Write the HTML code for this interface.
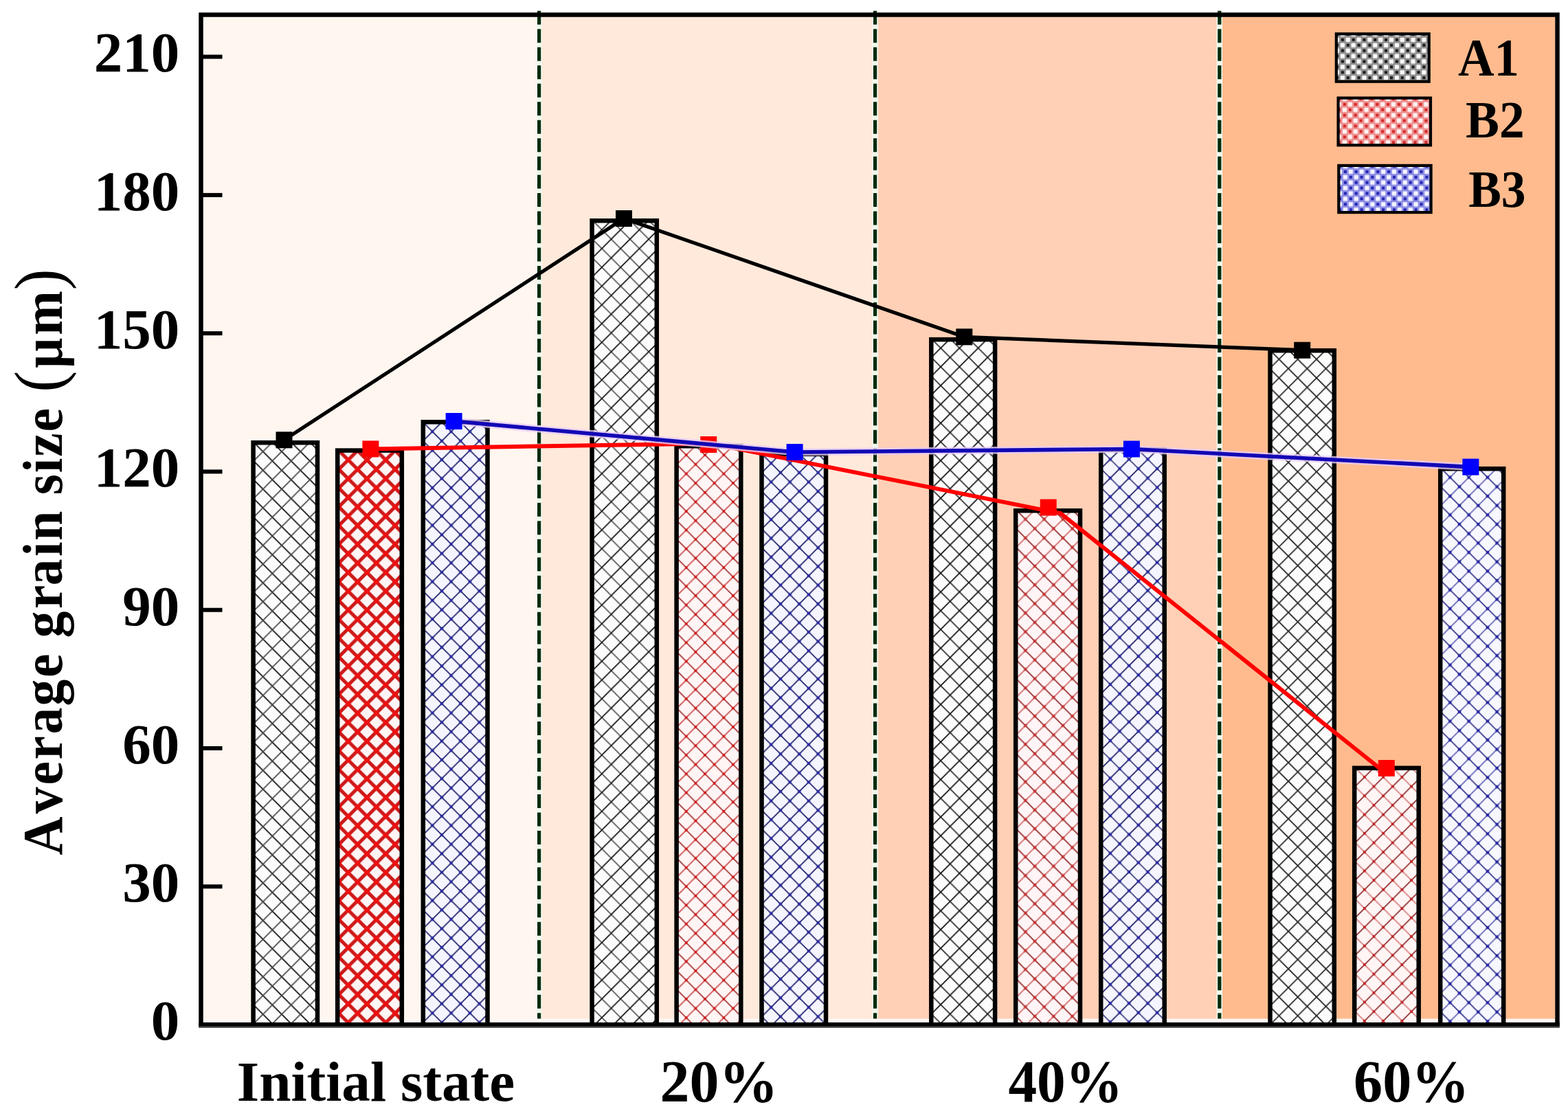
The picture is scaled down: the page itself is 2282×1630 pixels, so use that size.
<!DOCTYPE html>
<html><head><meta charset="utf-8"><title>Average grain size</title>
<style>
html,body{margin:0;padding:0;background:#fff;}
body{width:2282px;height:1630px;overflow:hidden;}
svg{display:block;}
text{font-family:"Liberation Serif","Times New Roman",serif;font-weight:bold;fill:#000;}
</style></head><body>
<svg xmlns="http://www.w3.org/2000/svg" width="2282" height="1630" viewBox="0 0 2282 1630">
<defs>
<pattern id="pA10" patternUnits="userSpaceOnUse" x="0.5" y="2.0" width="27.3" height="27.3"><rect width="27.3" height="27.3" fill="#FCFCFC"/><path d="M-27.30,-54.60L54.60,27.30M-27.30,-27.30L54.60,54.60M-27.30,0.00L54.60,81.90" stroke="#101010" stroke-width="1.75" fill="none"/><path d="M-27.30,27.30L54.60,-54.60M-27.30,54.60L54.60,-27.30M-27.30,81.90L54.60,0.00" stroke="#4a4a4a" stroke-width="1.75" fill="none"/></pattern>
<pattern id="pA11" patternUnits="userSpaceOnUse" x="2.3" y="6.8" width="27.3" height="27.3"><rect width="27.3" height="27.3" fill="#FCFCFC"/><path d="M-27.30,-54.60L54.60,27.30M-27.30,-27.30L54.60,54.60M-27.30,0.00L54.60,81.90" stroke="#5a5a5a" stroke-width="1.8" fill="none"/><path d="M-27.30,27.30L54.60,-54.60M-27.30,54.60L54.60,-27.30M-27.30,81.90L54.60,0.00" stroke="#101010" stroke-width="1.7" fill="none"/></pattern>
<pattern id="pA12" patternUnits="userSpaceOnUse" x="17.7" y="1.5" width="27.3" height="27.3"><rect width="27.3" height="27.3" fill="#FCFCFC"/><path d="M-27.30,-54.60L54.60,27.30M-27.30,-27.30L54.60,54.60M-27.30,0.00L54.60,81.90" stroke="#303030" stroke-width="1.75" fill="none"/><path d="M-27.30,27.30L54.60,-54.60M-27.30,54.60L54.60,-27.30M-27.30,81.90L54.60,0.00" stroke="#101010" stroke-width="1.7" fill="none"/></pattern>
<pattern id="pA13" patternUnits="userSpaceOnUse" x="5.0" y="4.1" width="27.3" height="27.3"><rect width="27.3" height="27.3" fill="#FCFCFC"/><path d="M-27.30,-54.60L54.60,27.30M-27.30,-27.30L54.60,54.60M-27.30,0.00L54.60,81.90" stroke="#1a1a1a" stroke-width="1.7" fill="none"/><path d="M-27.30,27.30L54.60,-54.60M-27.30,54.60L54.60,-27.30M-27.30,81.90L54.60,0.00" stroke="#262626" stroke-width="1.7" fill="none"/></pattern>
<pattern id="pB20" patternUnits="userSpaceOnUse" x="1.7" y="0.5" width="27.3" height="27.3"><rect width="27.3" height="27.3" fill="#FFF5F5"/><path d="M-27.30,-54.60L54.60,27.30M-27.30,-27.30L54.60,54.60M-27.30,0.00L54.60,81.90" stroke="#CC1A1A" stroke-width="5.0" fill="none"/><path d="M-27.30,27.30L54.60,-54.60M-27.30,54.60L54.60,-27.30M-27.30,81.90L54.60,0.00" stroke="#CC1A1A" stroke-width="5.0" fill="none"/><rect x="-3.50" y="-3.50" width="7" height="7" fill="#EE1111"/><rect x="23.80" y="-3.50" width="7" height="7" fill="#EE1111"/><rect x="-3.50" y="23.80" width="7" height="7" fill="#EE1111"/><rect x="23.80" y="23.80" width="7" height="7" fill="#EE1111"/><rect x="10.15" y="10.15" width="7" height="7" fill="#EE1111"/></pattern>
<pattern id="pB21" patternUnits="userSpaceOnUse" x="15.9" y="7.0" width="27.3" height="27.3"><rect width="27.3" height="27.3" fill="#FFF5F5"/><path d="M-27.30,-54.60L54.60,27.30M-27.30,-27.30L54.60,54.60M-27.30,0.00L54.60,81.90" stroke="#A83838" stroke-width="1.8" fill="none"/><path d="M-27.30,27.30L54.60,-54.60M-27.30,54.60L54.60,-27.30M-27.30,81.90L54.60,0.00" stroke="#D06060" stroke-width="1.9" fill="none"/><rect x="-2.00" y="-2.00" width="4" height="4" fill="#D02020"/><rect x="25.30" y="-2.00" width="4" height="4" fill="#D02020"/><rect x="-2.00" y="25.30" width="4" height="4" fill="#D02020"/><rect x="25.30" y="25.30" width="4" height="4" fill="#D02020"/><rect x="11.65" y="11.65" width="4" height="4" fill="#D02020"/></pattern>
<pattern id="pB22" patternUnits="userSpaceOnUse" x="4.5" y="4.9" width="27.3" height="27.3"><rect width="27.3" height="27.3" fill="#FFF5F6"/><path d="M-27.30,-54.60L54.60,27.30M-27.30,-27.30L54.60,54.60M-27.30,0.00L54.60,81.90" stroke="#953030" stroke-width="1.8" fill="none"/><path d="M-27.30,27.30L54.60,-54.60M-27.30,54.60L54.60,-27.30M-27.30,81.90L54.60,0.00" stroke="#D47A7A" stroke-width="1.9" fill="none"/><rect x="-2.25" y="-2.25" width="4.5" height="4.5" fill="#C43838"/><rect x="25.05" y="-2.25" width="4.5" height="4.5" fill="#C43838"/><rect x="-2.25" y="25.05" width="4.5" height="4.5" fill="#C43838"/><rect x="25.05" y="25.05" width="4.5" height="4.5" fill="#C43838"/><rect x="11.40" y="11.40" width="4.5" height="4.5" fill="#C43838"/></pattern>
<pattern id="pB23" patternUnits="userSpaceOnUse" x="6.6" y="25.3" width="27.3" height="27.3"><rect width="27.3" height="27.3" fill="#FFF5F5"/><path d="M-27.30,-54.60L54.60,27.30M-27.30,-27.30L54.60,54.60M-27.30,0.00L54.60,81.90" stroke="#DC9090" stroke-width="2.0" fill="none"/><path d="M-27.30,27.30L54.60,-54.60M-27.30,54.60L54.60,-27.30M-27.30,81.90L54.60,0.00" stroke="#8E2C2C" stroke-width="1.7" fill="none"/><rect x="-2.00" y="-2.00" width="4" height="4" fill="#C02828"/><rect x="25.30" y="-2.00" width="4" height="4" fill="#C02828"/><rect x="-2.00" y="25.30" width="4" height="4" fill="#C02828"/><rect x="25.30" y="25.30" width="4" height="4" fill="#C02828"/><rect x="11.65" y="11.65" width="4" height="4" fill="#C02828"/></pattern>
<pattern id="pB30" patternUnits="userSpaceOnUse" x="1.4" y="0.2" width="27.3" height="27.3"><rect width="27.3" height="27.3" fill="#F5F5FF"/><path d="M-27.30,-54.60L54.60,27.30M-27.30,-27.30L54.60,54.60M-27.30,0.00L54.60,81.90" stroke="#1C1C66" stroke-width="1.6" fill="none"/><path d="M-27.30,27.30L54.60,-54.60M-27.30,54.60L54.60,-27.30M-27.30,81.90L54.60,0.00" stroke="#1C1C66" stroke-width="1.6" fill="none"/><rect x="-2.25" y="-2.25" width="4.5" height="4.5" fill="#2A2A9A"/><rect x="25.05" y="-2.25" width="4.5" height="4.5" fill="#2A2A9A"/><rect x="-2.25" y="25.05" width="4.5" height="4.5" fill="#2A2A9A"/><rect x="25.05" y="25.05" width="4.5" height="4.5" fill="#2A2A9A"/><rect x="11.40" y="11.40" width="4.5" height="4.5" fill="#2A2A9A"/></pattern>
<pattern id="pB31" patternUnits="userSpaceOnUse" x="3.0" y="19.0" width="27.3" height="27.3"><rect width="27.3" height="27.3" fill="#F5F5FF"/><path d="M-27.30,-54.60L54.60,27.30M-27.30,-27.30L54.60,54.60M-27.30,0.00L54.60,81.90" stroke="#1C1C66" stroke-width="1.6" fill="none"/><path d="M-27.30,27.30L54.60,-54.60M-27.30,54.60L54.60,-27.30M-27.30,81.90L54.60,0.00" stroke="#1C1C66" stroke-width="1.6" fill="none"/><rect x="-2.25" y="-2.25" width="4.5" height="4.5" fill="#2A2A9A"/><rect x="25.05" y="-2.25" width="4.5" height="4.5" fill="#2A2A9A"/><rect x="-2.25" y="25.05" width="4.5" height="4.5" fill="#2A2A9A"/><rect x="25.05" y="25.05" width="4.5" height="4.5" fill="#2A2A9A"/><rect x="11.40" y="11.40" width="4.5" height="4.5" fill="#2A2A9A"/></pattern>
<pattern id="pB32" patternUnits="userSpaceOnUse" x="18.8" y="26.9" width="27.3" height="27.3"><rect width="27.3" height="27.3" fill="#F5F5FF"/><path d="M-27.30,-54.60L54.60,27.30M-27.30,-27.30L54.60,54.60M-27.30,0.00L54.60,81.90" stroke="#40407E" stroke-width="1.7" fill="none"/><path d="M-27.30,27.30L54.60,-54.60M-27.30,54.60L54.60,-27.30M-27.30,81.90L54.60,0.00" stroke="#18185E" stroke-width="1.6" fill="none"/><rect x="-2.25" y="-2.25" width="4.5" height="4.5" fill="#2A2AA0"/><rect x="25.05" y="-2.25" width="4.5" height="4.5" fill="#2A2AA0"/><rect x="-2.25" y="25.05" width="4.5" height="4.5" fill="#2A2AA0"/><rect x="25.05" y="25.05" width="4.5" height="4.5" fill="#2A2AA0"/><rect x="11.40" y="11.40" width="4.5" height="4.5" fill="#2A2AA0"/></pattern>
<pattern id="pB33" patternUnits="userSpaceOnUse" x="21.9" y="25.9" width="27.3" height="27.3"><rect width="27.3" height="27.3" fill="#F7F7FF"/><path d="M-27.30,-54.60L54.60,27.30M-27.30,-27.30L54.60,54.60M-27.30,0.00L54.60,81.90" stroke="#34348A" stroke-width="1.7" fill="none"/><path d="M-27.30,27.30L54.60,-54.60M-27.30,54.60L54.60,-27.30M-27.30,81.90L54.60,0.00" stroke="#6A6AB8" stroke-width="1.8" fill="none"/><rect x="-2.25" y="-2.25" width="4.5" height="4.5" fill="#2A2AA0"/><rect x="25.05" y="-2.25" width="4.5" height="4.5" fill="#2A2AA0"/><rect x="-2.25" y="25.05" width="4.5" height="4.5" fill="#2A2AA0"/><rect x="25.05" y="25.05" width="4.5" height="4.5" fill="#2A2AA0"/><rect x="11.40" y="11.40" width="4.5" height="4.5" fill="#2A2AA0"/></pattern>
<pattern id="lA" patternUnits="userSpaceOnUse" x="1946" y="50" width="15.8" height="15.8"><rect width="15.8" height="15.8" fill="#909090"/><rect x="4.80" y="-3.10" width="6.2" height="6.2" fill="#FAFAFA"/><rect x="-3.10" y="4.80" width="6.2" height="6.2" fill="#FAFAFA"/><rect x="12.70" y="4.80" width="6.2" height="6.2" fill="#FAFAFA"/><rect x="4.80" y="12.70" width="6.2" height="6.2" fill="#FAFAFA"/><rect x="-2.00" y="-2.00" width="4.0" height="4.0" fill="#1a1a1a"/><rect x="13.80" y="-2.00" width="4.0" height="4.0" fill="#1a1a1a"/><rect x="-2.00" y="13.80" width="4.0" height="4.0" fill="#1a1a1a"/><rect x="13.80" y="13.80" width="4.0" height="4.0" fill="#1a1a1a"/><rect x="5.90" y="5.90" width="4.0" height="4.0" fill="#1a1a1a"/></pattern>
<pattern id="lB" patternUnits="userSpaceOnUse" x="1949" y="144" width="15.8" height="15.8"><rect width="15.8" height="15.8" fill="#EE9090"/><rect x="4.80" y="-3.10" width="6.2" height="6.2" fill="#FFF2F2"/><rect x="-3.10" y="4.80" width="6.2" height="6.2" fill="#FFF2F2"/><rect x="12.70" y="4.80" width="6.2" height="6.2" fill="#FFF2F2"/><rect x="4.80" y="12.70" width="6.2" height="6.2" fill="#FFF2F2"/><rect x="-2.00" y="-2.00" width="4.0" height="4.0" fill="#D42828"/><rect x="13.80" y="-2.00" width="4.0" height="4.0" fill="#D42828"/><rect x="-2.00" y="13.80" width="4.0" height="4.0" fill="#D42828"/><rect x="13.80" y="13.80" width="4.0" height="4.0" fill="#D42828"/><rect x="5.90" y="5.90" width="4.0" height="4.0" fill="#D42828"/></pattern>
<pattern id="lC" patternUnits="userSpaceOnUse" x="1950" y="242" width="15.8" height="15.8"><rect width="15.8" height="15.8" fill="#8C8CE6"/><rect x="4.80" y="-3.10" width="6.2" height="6.2" fill="#F4F4FF"/><rect x="-3.10" y="4.80" width="6.2" height="6.2" fill="#F4F4FF"/><rect x="12.70" y="4.80" width="6.2" height="6.2" fill="#F4F4FF"/><rect x="4.80" y="12.70" width="6.2" height="6.2" fill="#F4F4FF"/><rect x="-2.00" y="-2.00" width="4.0" height="4.0" fill="#2424B0"/><rect x="13.80" y="-2.00" width="4.0" height="4.0" fill="#2424B0"/><rect x="-2.00" y="13.80" width="4.0" height="4.0" fill="#2424B0"/><rect x="13.80" y="13.80" width="4.0" height="4.0" fill="#2424B0"/><rect x="5.90" y="5.90" width="4.0" height="4.0" fill="#2424B0"/></pattern>
</defs>
<rect width="2282" height="1630" fill="#fff"/>
<rect x="296" y="21.5" width="488.6" height="1461.3" fill="#FFF6F0"/>
<rect x="784.6" y="21.5" width="489.0" height="1461.3" fill="#FFE9DB"/>
<rect x="1273.6" y="21.5" width="501.2" height="1461.3" fill="#FFD0B5"/>
<rect x="1774.8" y="21.5" width="488.2" height="1461.3" fill="#FFBB8E"/>
<rect x="296" y="1482.8" width="1967" height="5.5" fill="#FFF8F4"/>
<line x1="784.6" y1="17" x2="784.6" y2="1482.6" stroke="#F0F8EC" stroke-width="8.5"/>
<line x1="784.6" y1="15.7" x2="784.6" y2="1482.6" stroke="#062A0C" stroke-width="5.2" stroke-dasharray="20 6.52"/>
<line x1="1273.6" y1="17" x2="1273.6" y2="1482.6" stroke="#F0F8EC" stroke-width="8.5"/>
<line x1="1273.6" y1="15.7" x2="1273.6" y2="1482.6" stroke="#062A0C" stroke-width="5.2" stroke-dasharray="20 6.52"/>
<line x1="1774.8" y1="17" x2="1774.8" y2="1482.6" stroke="#F0F8EC" stroke-width="8.5"/>
<line x1="1774.8" y1="15.7" x2="1774.8" y2="1482.6" stroke="#062A0C" stroke-width="5.2" stroke-dasharray="20 6.52"/>
<rect x="368.6" y="644.2" width="93.4" height="847.2" fill="url(#pA10)" stroke="#000" stroke-width="6.5"/>
<rect x="861.6" y="321.2" width="94.2" height="1170.2" fill="url(#pA11)" stroke="#000" stroke-width="6.5"/>
<rect x="1355.3" y="494.1" width="92.8" height="997.5" fill="url(#pA12)" stroke="#000" stroke-width="6.5"/>
<rect x="1848.5" y="510.2" width="93.3" height="981.2" fill="url(#pA13)" stroke="#000" stroke-width="6.5"/>
<rect x="491.2" y="655.6" width="93.6" height="835.9" fill="url(#pB20)" stroke="#000" stroke-width="6.5"/>
<rect x="984.6" y="649.2" width="93.7" height="842.2" fill="url(#pB21)" stroke="#000" stroke-width="6.5"/>
<rect x="1478.2" y="743.2" width="93.8" height="748.2" fill="url(#pB22)" stroke="#000" stroke-width="6.5"/>
<rect x="1971.2" y="1117.8" width="93.5" height="373.8" fill="url(#pB23)" stroke="#000" stroke-width="6.5"/>
<rect x="615.8" y="614.2" width="93.7" height="877.2" fill="url(#pB30)" stroke="#000" stroke-width="6.5"/>
<rect x="1108.5" y="660.8" width="93.5" height="830.8" fill="url(#pB31)" stroke="#000" stroke-width="6.5"/>
<rect x="1602.2" y="654.6" width="92.5" height="836.9" fill="url(#pB32)" stroke="#000" stroke-width="6.5"/>
<rect x="2096.2" y="682.2" width="92.0" height="809.2" fill="url(#pB33)" stroke="#000" stroke-width="6.5"/>
<rect x="292.5" y="21.5" width="1974.0" height="1470.0" fill="none" stroke="#000" stroke-width="6.5"/>
<rect x="289.25" y="1488" width="1980.5" height="5.2" fill="#000"/>
<rect x="289.25" y="1493.2" width="1980.5" height="2.6" fill="#3a3a3a"/>
<line x1="292.5" y1="1290.2" x2="323.5" y2="1290.2" stroke="#000" stroke-width="6"/>
<line x1="292.5" y1="1089.0" x2="323.5" y2="1089.0" stroke="#000" stroke-width="6"/>
<line x1="292.5" y1="887.7" x2="323.5" y2="887.7" stroke="#000" stroke-width="6"/>
<line x1="292.5" y1="686.4" x2="323.5" y2="686.4" stroke="#000" stroke-width="6"/>
<line x1="292.5" y1="485.1" x2="323.5" y2="485.1" stroke="#000" stroke-width="6"/>
<line x1="292.5" y1="283.9" x2="323.5" y2="283.9" stroke="#000" stroke-width="6"/>
<line x1="292.5" y1="82.6" x2="323.5" y2="82.6" stroke="#000" stroke-width="6"/>
<polyline points="413.5,640.3 908.0,318.0 1403.3,490.3 1895.2,509.7" fill="none" stroke="#000000" stroke-width="5.2" stroke-linejoin="round"/>
<rect x="401.5" y="628.3" width="24" height="24" fill="#000000"/>
<rect x="896.0" y="306.0" width="24" height="24" fill="#000000"/>
<rect x="1391.3" y="478.3" width="24" height="24" fill="#000000"/>
<rect x="1883.2" y="497.7" width="24" height="24" fill="#000000"/>
<polyline points="539.4,653.4 1034.3,645.4 1543.8,747.3 2017.8,1126.0" fill="none" stroke="#FF0000" stroke-width="6" stroke-linejoin="round"/>
<rect x="527.4" y="641.4" width="24" height="24" fill="#FF0000"/>
<rect x="1019.2" y="635.0" width="24" height="24" fill="#FF0000"/>
<rect x="1513.7" y="726.5" width="24" height="24" fill="#FF0000"/>
<rect x="2005.8" y="1106.0" width="24" height="24" fill="#FF0000"/>
<polyline points="660.6,613.0 1156.6,658.0 1646.9,653.5 2140.4,679.6" fill="none" stroke="#E6CCF6" stroke-width="10.6" stroke-linejoin="round" opacity="0.8"/>
<polyline points="660.6,613.0 1156.6,658.0 1646.9,653.5 2140.4,679.6" fill="none" stroke="#1208B4" stroke-width="5.6" stroke-linejoin="round"/>
<rect x="648.6" y="601.0" width="24" height="24" fill="#0000FF"/>
<rect x="1144.6" y="646.0" width="24" height="24" fill="#0000FF"/>
<rect x="1634.9" y="641.5" width="24" height="24" fill="#0000FF"/>
<rect x="2128.4" y="667.6" width="24" height="24" fill="#0000FF"/>
<rect x="1944.8" y="49.3" width="134.9" height="69.4" fill="url(#lA)" stroke="#000" stroke-width="4.2"/>
<rect x="1947.6" y="142.6" width="134.4" height="68.7" fill="url(#lB)" stroke="#000" stroke-width="4.2"/>
<rect x="1948.3" y="240.9" width="134.3" height="68.2" fill="url(#lC)" stroke="#000" stroke-width="4.2"/>
<text transform="translate(2121.97 109.60) scale(0.9261 1)" font-size="78.61">A1</text>
<text transform="translate(2133.02 200.20) scale(0.9775 1)" font-size="75.15">B2</text>
<text transform="translate(2137.15 301.40) scale(0.9401 1)" font-size="76.07">B3</text>
<text x="261.3" y="1513.3" font-size="83" text-anchor="end">0</text>
<text x="261.3" y="1312.0" font-size="83" text-anchor="end">30</text>
<text x="261.3" y="1110.8" font-size="83" text-anchor="end">60</text>
<text x="261.3" y="909.5" font-size="83" text-anchor="end">90</text>
<text x="261.3" y="708.2" font-size="83" text-anchor="end">120</text>
<text x="261.3" y="506.9" font-size="83" text-anchor="end">150</text>
<text x="261.3" y="305.7" font-size="83" text-anchor="end">180</text>
<text x="261.3" y="104.4" font-size="83" text-anchor="end">210</text>
<text transform="translate(344.79 1602.01) scale(1.0112 1)" font-size="82.28">Initial state</text>
<text transform="translate(960.60 1602.79) scale(0.9949 1)" font-size="86.44">20%</text>
<text transform="translate(1467.43 1602.79) scale(0.9638 1)" font-size="86.44">40%</text>
<text transform="translate(1970.07 1602.79) scale(0.9733 1)" font-size="86.44">60%</text>
<text transform="translate(89.7 1250.0) rotate(-90) scale(0.93 1)" font-size="83.5"><tspan x="6.0 70.6 115.5 155.3 195.1 239.3 284.0 324.0 346.1 391.3 427.7 473.1 498.0 538.0 569.5 604.0 629.2 668.3 708.3">Average grain size </tspan><tspan x="730.4" font-size="100" font-weight="normal">(</tspan><tspan x="768.0 819.6">μm</tspan><tspan x="890.0" font-size="100" font-weight="normal">)</tspan></text>
</svg></body></html>
